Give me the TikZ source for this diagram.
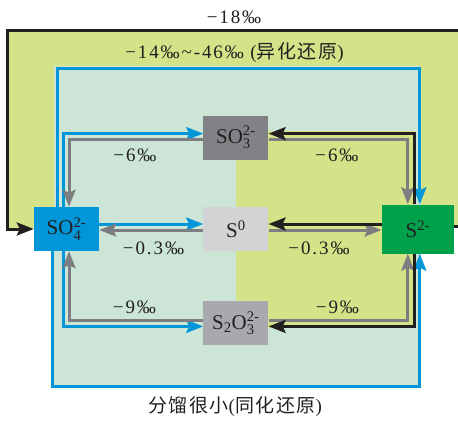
\documentclass[tikz,border=0pt]{standalone}
\usepackage{amsmath}
\usepackage{fontspec}
\usepackage{tikz}
\usepackage{xcolor}
\usetikzlibrary{arrows.meta,positioning,calc}
\setmainfont{Liberation Serif}
\newfontfamily\valfont[LetterSpace=10]{Liberation Serif}
\newfontfamily\cjk[LetterSpace=8]{Noto Sans CJK SC}
\definecolor{outerYellow}{RGB}{212,226,136}
\definecolor{paleGreen}{RGB}{204,229,214}
\definecolor{sulfateBlue}{RGB}{0,150,216}
\definecolor{sulfideGreen}{RGB}{0,161,75}
\definecolor{sulfiteGray}{RGB}{128,130,133}
\definecolor{zeroGray}{RGB}{209,211,212}
\definecolor{thioGray}{RGB}{167,169,172}
\definecolor{lineGray}{RGB}{125,126,130}
\definecolor{lineBlack}{RGB}{35,31,32}

\begin{document}
\begin{tikzpicture}[
            x=1pt, y=-1pt,
            species/.style={rectangle, minimum width=65pt, minimum height=44pt, inner sep=0pt, text=lineBlack, font=\fontsize{21}{24}\selectfont},
            val/.style={inner sep=0pt, text=lineBlack, font=\valfont\fontsize{19}{22}\selectfont},
            tip/.style={-{Stealth[length=17pt,width=13pt,inset=3pt]}},
            bluearrow/.style={tip, draw=sulfateBlue, line width=3pt},
            grayarrow/.style={tip, draw=lineGray, line width=3pt},
            blackarrow/.style={tip, draw=lineBlack, line width=3pt}
        ]
            \useasboundingbox (0,0) rectangle (458,421);
            \fill[outerYellow] (7,30) rectangle (458,228);
            \fill[paleGreen] (54,66) rectangle (421,388);
            \fill[outerYellow] (236,131) rectangle (415,328);

            \node[species, fill=sulfateBlue] (so4) at (66.5,229) {SO$^{\text{2-}}_{\text{4}}$};
            \node[species, fill=zeroGray, right=104pt of so4] (s0) {S$^{\text{0}}$};
            \node[species, fill=sulfideGreen, minimum width=72pt, minimum height=49pt, right=113pt of s0] (s2) {S$^{\text{2-}}$};
            \node[species, fill=sulfiteGray, above=47pt of s0] (so3) {SO$^{\text{2-}}_{\text{3}}$};
            \node[species, fill=thioGray, below=50pt of s0] (s2o3) {S$_{\text{2}}$O$^{\text{2-}}_{\text{3}}$};

            \coordinate (btop) at (236,68);
            \coordinate (bbot) at (236,386);
            \coordinate (ktopr) at (462,30);
            \coordinate (ktopl) at (7,30);

            \draw[blackarrow] ([yshift=3pt]s2.east) -| (ktopr) -- (ktopl) |- (so4.west);
            \draw[bluearrow] ([xshift=-9.5pt]so4.north) |- (btop) -| ([xshift=2pt]s2.north);
            \draw[bluearrow] ([xshift=-14.5pt]so4.south) |- (bbot) -| ([xshift=2pt]s2.south);

            \draw[bluearrow] ([xshift=-3.5pt]so4.north) |- ([yshift=4pt]so3.west);
            \draw[bluearrow] ([xshift=-3.5pt]so4.south) |- ([yshift=-3pt]s2o3.west);
            \draw[bluearrow] ([yshift=5pt]so4.east) -- ([yshift=5pt]s0.west);
            \draw[grayarrow] ([yshift=-2pt]so3.west) -| ([xshift=2.5pt]so4.north);
            \draw[grayarrow] ([yshift=3pt]s2o3.west) -| ([xshift=2.5pt]so4.south);
            \draw[grayarrow] ([yshift=-1pt]s0.west) -- ([yshift=-1pt]so4.east);
            \draw[grayarrow] ([yshift=-2pt]so3.east) -| ([xshift=-10pt]s2.north);
            \draw[grayarrow] ([yshift=3pt]s2o3.east) -| ([xshift=-10pt]s2.south);
            \draw[grayarrow] ([yshift=-1pt]s0.east) -- ([yshift=-1pt]s2.west);
            \draw[blackarrow] ([xshift=-3pt]s2.north) |- ([yshift=4pt]so3.east);
            \draw[blackarrow] ([xshift=-3pt]s2.south) |- ([yshift=-3pt]s2o3.east);
            \draw[blackarrow] ([yshift=5pt]s2.west) -- ([yshift=5pt]s0.east);

            \node[val] (d18) at (234,17.5) {−18‰};
            \node[val] (dissim) at (234.5,53) {−14‰\textasciitilde-46‰ ({\cjk 异化还原})};
            \node[val] (so3l) at (135,155) {−6‰};
            \node[val] (so3r) at (337,155) {−6‰};
            \node[val] (s0l) at (153.5,248) {−0.3‰};
            \node[val] (s0r) at (319,248) {−0.3‰};
            \node[val] (s2o3l) at (134.5,307) {−9‰};
            \node[val] (s2o3r) at (337.5,307) {−9‰};
            \node[val] (assim) at (235,407) {{\cjk 分馏很小}({\cjk 同化还原})};
        \end{tikzpicture}
\end{document}
